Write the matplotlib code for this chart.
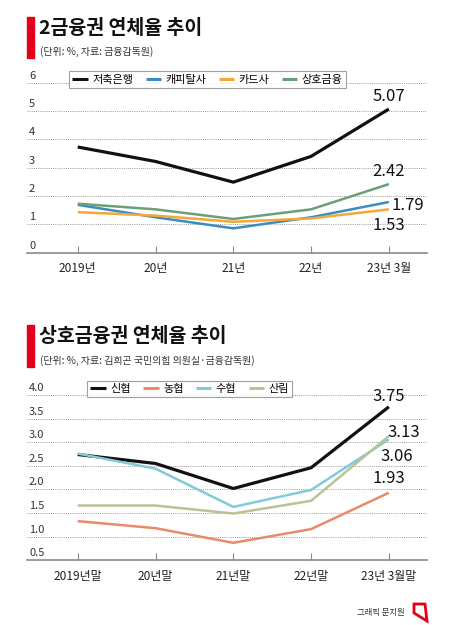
import matplotlib
matplotlib.use("Agg")
import matplotlib.pyplot as plt
from matplotlib.patches import Rectangle, Polygon

plt.rcParams['font.family'] = ['Noto Sans CJK KR', 'DejaVu Sans']

# 상단 차트: 2금융권 연체율
x_top = ['2019년', '20년', '21년', '22년', '23년 3월']
savings = [3.73, 3.22, 2.49, 3.40, 5.07]
capital = [1.69, 1.25, 0.86, 1.25, 1.79]
card = [1.43, 1.31, 1.09, 1.21, 1.53]
mutual = [1.73, 1.53, 1.19, 1.53, 2.42]
top_names = ['저축은행', '캐피탈사', '카드사', '상호금융']
top_yticks = [0, 1, 2, 3, 4, 5, 6]

# 하단 차트: 상호금융권 연체율
x_bot = ['2019년말', '20년말', '21년말', '22년말', '23년 3월말']
shinhyup = [2.74, 2.55, 2.02, 2.46, 3.75]
nonghyup = [1.33, 1.18, 0.87, 1.16, 1.93]
suhyup = [2.76, 2.44, 1.63, 1.99, 3.06]
sanlim = [1.66, 1.66, 1.49, 1.76, 3.13]
bot_names = ['신협', '농협', '수협', '산림']
bot_yticks = [0.5, 1.0, 1.5, 2.0, 2.5, 3.0, 3.5, 4.0]

RED = '#e2001a'
W, H = 450, 625

fig = plt.figure(figsize=(4.5, 6.25), dpi=100)
fig.patch.set_facecolor('white')


def fx(px):
    return px / W


def fy(py):
    return 1 - py / H


def header(title, sub, y0, y1, ty, sy):
    fig.patches.append(Rectangle((fx(27), fy(y1)), fx(7), (y1 - y0) / H,
                                 transform=fig.transFigure, color=RED, zorder=5))
    fig.text(fx(39), fy(ty), title, fontsize=14, fontweight='bold',
             va='center', ha='left', color='#111111')
    fig.text(fx(40), fy(sy), sub, fontsize=7.2, va='center', ha='left',
             color='#333333')


def setup_axes(ax, labels, yticks, fmt):
    n = len(labels)
    ax.set_xlim(-0.652, n - 1 + 0.49)
    ax.set_ylim(yticks[0], yticks[-1])
    for s in ['top', 'right', 'left']:
        ax.spines[s].set_visible(False)
    ax.spines['bottom'].set_color('#8a8a8a')
    ax.spines['bottom'].set_linewidth(1.2)
    ax.set_yticks([])
    ax.set_xticks(range(n))
    ax.set_xticklabels(labels, fontsize=8.6, color='#222222')
    ax.tick_params(axis='x', direction='in', length=5, width=0.8,
                   color='#8a8a8a', pad=7)
    for v in yticks[1:]:
        ax.axhline(v, color='#9a9a9a', lw=0.7, ls=(0, (1, 1.2)), zorder=0)
    for v in yticks:
        ax.annotate(fmt.format(v), xy=(0.005, v), xycoords=('axes fraction', 'data'),
                    xytext=(0, 2), textcoords='offset pixels',
                    fontsize=8, color='#333333', ha='left', va='bottom')


# ---------- 상단 ----------
header('2금융권 연체율 추이', '(단위: %, 자료: 금융감독원)', 17, 58, 29, 52)
ax1 = fig.add_axes([fx(27), fy(252.7), fx(400), (252.7 - 82.7) / H])
setup_axes(ax1, x_top, top_yticks, '{:g}')
xs = range(len(x_top))
top_series = [savings, capital, card, mutual]
top_colors = ['#111111', '#3a8dc2', '#f5a838', '#6c9f78']
top_lw = [2.3, 1.8, 1.8, 1.8]
for vals, c, lw, name in zip(top_series, top_colors, top_lw, top_names):
    ax1.plot(xs, vals, color=c, lw=lw, label=name, solid_capstyle='butt')

top_offsets = [(0, 13), (19, -4), (0, -16), (0, 13)]
for vals, (dx, dy) in zip(top_series, top_offsets):
    ax1.annotate(f'{vals[-1]:.2f}', xy=(len(vals) - 1, vals[-1]),
                 xytext=(dx, dy), textcoords='offset pixels',
                 ha='center', va='center', fontsize=12, fontweight='medium',
                 color='#111111')

leg1 = ax1.legend(loc='upper left', bbox_to_anchor=(fx(69), fy(71.5)),
                  bbox_transform=fig.transFigure, ncol=4, fontsize=8,
                  frameon=True, fancybox=False, handlelength=1.4,
                  handletextpad=0.4, columnspacing=1.1, borderpad=0.3,
                  borderaxespad=0)
leg1.get_frame().set_edgecolor('#888888')
leg1.get_frame().set_linewidth(0.8)
for h in leg1.get_lines():
    h.set_linewidth(2.2)

# ---------- 하단 ----------
header('상호금융권 연체율 추이', '(단위: %, 자료: 김희곤 국민의힘 의원실·금융감독원)',
       325, 367, 337, 361)
ax2 = fig.add_axes([fx(27), fy(560.3), fx(400), (560.3 - 395) / H])
setup_axes(ax2, x_bot, bot_yticks, '{:.1f}')
xs = range(len(x_bot))
bot_series = [shinhyup, nonghyup, suhyup, sanlim]
bot_colors = ['#111111', '#e98b6b', '#80cbd8', '#b7c595']
bot_lw = [2.3, 1.8, 1.8, 1.8]
for vals, c, lw, name in zip(bot_series, bot_colors, bot_lw, bot_names):
    ax2.plot(xs, vals, color=c, lw=lw, label=name, solid_capstyle='butt')

bot_offsets = [(0, 10), (0, 14), (8, -17), (15, 4)]
for vals, (dx, dy) in zip(bot_series, bot_offsets):
    ax2.annotate(f'{vals[-1]:.2f}', xy=(len(vals) - 1, vals[-1]),
                 xytext=(dx, dy), textcoords='offset pixels',
                 ha='center', va='center', fontsize=12, fontweight='medium',
                 color='#111111')

leg2 = ax2.legend(loc='upper left', bbox_to_anchor=(fx(87), fy(380.5)),
                  bbox_transform=fig.transFigure, ncol=4, fontsize=8,
                  frameon=True, fancybox=False, handlelength=1.4,
                  handletextpad=0.4, columnspacing=1.1, borderpad=0.3,
                  borderaxespad=0)
leg2.get_frame().set_edgecolor('#888888')
leg2.get_frame().set_linewidth(0.8)
for h in leg2.get_lines():
    h.set_linewidth(2.2)

# 크레딧
fig.text(fx(405), fy(612), '그래픽 문지원', fontsize=6, ha='right', va='center',
         color='#333333')
logo = Polygon([(fx(414), fy(604)), (fx(425), fy(604)), (fx(427), fy(621)),
                (fx(414), fy(613))], closed=True, fill=False, edgecolor=RED,
               lw=2, joinstyle='miter', transform=fig.transFigure)
fig.patches.append(logo)

fig.savefig('out.png', dpi=100, facecolor='white')
